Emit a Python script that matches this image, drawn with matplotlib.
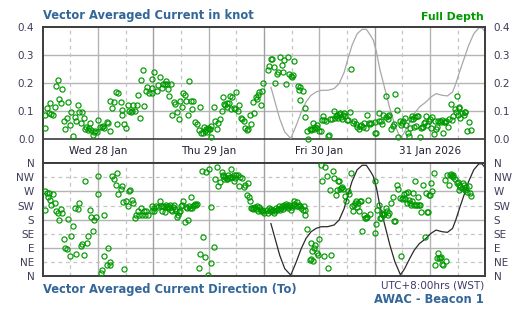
import matplotlib
matplotlib.use("Agg")
import matplotlib.pyplot as plt
import numpy as np

# ---------------- data (hours since Wed 28 Jan 2026 00:00) ----------------
speed_hours = [
    0.4, 0.6, 1.0, 1.4, 1.9, 2.3, 1.6, 2.7, 2.9, 3.4, 3.6, 4.0, 4.2, 4.6, 4.9, 5.3, 5.5, 5.9, 6.1, 6.6,
    7.0, 7.2, 7.6, 7.9, 8.3, 8.5, 8.9, 9.1, 9.4, 9.8, 10.0, 10.2, 10.4, 10.9, 11.1, 11.3, 11.7, 11.9, 12.4, 12.8,
    13.0, 13.4, 13.9, 14.1, 14.5, 14.7, 15.1, 15.4, 15.8, 16.2, 16.4, 16.9, 17.1, 17.3, 17.7, 18.1, 18.4, 18.8, 19.2, 19.4,
    19.6, 20.1, 20.5, 20.7, 21.1, 21.4, 21.8, 22.0, 22.4, 22.6, 23.1,
    23.8, 23.8, 23.8, 24.2, 24.9, 25.1, 25.5, 25.9, 26.1, 26.6, 26.8, 27.0, 27.2, 27.4, 27.9, 28.1, 28.5, 28.7, 29.1, 29.6,
    29.8, 30.2, 30.4, 30.9, 31.1, 31.5, 31.7, 32.1, 32.4, 32.6, 33.0, 33.4, 33.9, 34.1, 34.3, 34.7, 34.9, 35.1, 35.4, 35.6,
    35.8, 36.0, 36.2, 36.4, 36.6, 37.1, 37.3, 37.7, 38.1, 38.4, 38.8, 39.0, 39.4, 39.6, 39.9, 40.0, 40.5, 40.7, 40.9, 41.1,
    41.6, 41.8, 42.0, 42.4, 42.6, 43.1, 43.2, 43.6, 43.9, 44.3, 44.5, 45.0, 45.2, 45.6, 45.8, 46.2, 46.5, 46.7, 46.9, 47.4,
    47.6, 47.8,
    48.9, 49.1, 49.5, 49.7, 50.1, 50.4, 50.8, 51.0, 51.4, 51.9, 52.1, 52.3, 52.7, 53.1, 53.4, 53.8, 54.0, 54.2, 54.6, 55.3,
    55.5, 55.7, 55.9, 56.4, 56.8, 57.0, 57.4, 57.6, 57.9, 58.1, 58.5, 58.7, 58.9, 59.1, 59.4, 59.6, 60.0, 60.4, 60.6, 60.9,
    61.1, 61.5, 61.9, 62.1, 62.4, 62.8, 63.2, 63.4, 63.6, 63.9, 64.1, 64.3, 64.5, 64.7, 64.9, 65.1, 65.4, 65.6, 66.0, 66.2,
    66.6, 66.9, 67.3, 67.5, 67.9, 68.1, 68.6, 68.8, 69.0, 69.4, 69.6, 70.1, 70.3, 70.7, 70.9, 71.1,
    72.0, 72.0, 72.4, 72.9, 72.9, 73.3, 73.7, 73.9, 74.4, 74.4, 74.8, 75.0, 75.2, 75.6, 75.9, 76.3, 76.5, 76.9, 77.1, 77.6,
    77.8, 78.0, 78.2, 78.6, 78.9, 79.3, 79.5, 79.7, 79.9, 80.1, 80.4, 80.6, 80.8, 81.0, 81.2, 81.4, 81.9, 82.1, 82.3, 82.5,
    82.7, 82.9, 83.1, 83.4, 83.8, 84.0, 84.2, 84.4, 84.9, 85.1, 85.3, 85.5, 85.7, 86.1, 86.4, 86.6, 86.8, 87.0, 87.2, 87.4,
    87.9, 88.1, 88.5, 88.7, 89.1, 89.4, 89.6, 89.8, 90.0, 90.2, 90.4, 90.6, 90.9, 91.3, 91.5, 91.7, 92.1, 92.4, 92.8,
]
speed_knots = [
    .039, .086, .111, .095, .092, .087, .129, .114, .189, .211, .145, .129, .179, .064, .038, .075, .132, .050, .096, .011,
    .079, .064, .121, .096, .058, .096, .075, .038, .043, .032, .040, .057, .032, .014, .026, .029, .026, .068, .044, .044,
    .046, .040, .062, .057, .029, .136, .111, .132, .168, .054, .164, .132, .104, .086, .054, .039, .121, .100, .096, .100,
    .121, .100, .121, .157, .075, .211, .246, .118, .171, .186, .164,
    .214, .185, .167, .239, .171, .194, .221, .182, .198, .196, .210, .198, .179, .154, .196, .086, .133, .125, .096, .071,
    .136, .115, .164, .157, .137, .086, .207, .136, .107, .136, .061, .055, .032, .114, .023, .023, .043, .031, .036, .025,
    .040, .038, .036, .007, .049, .114, .067, .036, .057, .071, .100, .150, .126, .121, .129, .115, .129, .155, .107, .150,
    .111, .107, .168, .100, .121, .077, .071, .064, .039, .035, .036, .086, .054, .132, .093, .150, .144, .157, .168, .121,
    .171, .200,
    .246, .263, .287, .286, .257, .200, .232, .239, .293, .264, .239, .282, .198, .293, .232, .225, .221, .229, .279, .189,
    .175, .139, .186, .171, .111, .079, .029, .000, .036, .032, .036, .057, .036, .043, .050, .039, .029, .029, .068, .082,
    .068, .067, .011, .014, .071, .071, .100, .077, .082, .086, .075, .090, .093, .079, .074, .088, .093, .082, .068, .068,
    .096, .252, .057, .064, .054, .043, .036, .046, .050, .043, .057, .039, .086, .057, .054, .057,
    .061, .021, .021, .064, .093, .064, .054, .086, .155, .079, .071, .082, .086, .036, .046, .054, .161, .104, .007, .064,
    .050, .057, .064, .075, .050, .021, .011, .039, .071, .082, .071, .043, .079, .046, .082, .082, .007, .039, .043, .043,
    .057, .061, .082, .050, .064, .071, .039, .079, .018, .064, .036, .043, .064, .064, .061, .068, .021, .061, .061, .067,
    .043, .071, .125, .068, .082, .107, .098, .154, .088, .111, .114, .075, .093, .086, .096, .096, .029, .061, .032,
]

dir_hours = [
    0.4, 0.6, 1.0, 1.2, 1.4, 1.6, 1.9, 2.3, 2.7, 2.9, 3.4, 3.6, 4.0, 4.2, 4.6, 4.9, 5.3, 5.5, 5.9, 6.1,
    6.6, 7.0, 7.2, 7.6, 7.9, 8.3, 8.5, 8.9, 9.1, 9.6, 9.8, 10.2, 10.4, 10.9, 11.1, 11.5, 11.9, 12.1, 12.6, 12.8,
    13.2, 13.4, 13.9, 14.1, 14.5, 14.7, 15.1, 15.4, 15.8, 16.2, 16.4, 16.9, 17.1, 17.5, 17.7, 18.1, 18.4, 18.8, 19.0, 19.4,
    19.6, 20.1, 20.3, 20.7, 20.9, 21.4, 21.6, 22.0, 22.2, 22.4, 22.9,
    23.8, 23.8, 24.2, 24.2, 24.6, 25.1, 25.5, 25.7, 25.9, 26.1, 26.4, 26.6, 26.8, 27.0, 27.2, 27.4, 27.6, 27.9, 28.1, 28.3,
    28.5, 28.7, 28.9, 29.1, 29.4, 29.6, 29.8, 30.0, 30.2, 30.4, 30.9, 31.1, 31.3, 31.5, 31.7, 31.9, 32.1, 32.4, 32.6, 32.8,
    33.0, 33.2, 33.4, 33.9, 34.1, 34.5, 34.7, 35.1, 35.4, 35.8, 36.0, 36.4, 36.6, 37.1, 37.3, 37.7, 38.1, 38.4, 38.8, 39.0,
    39.2, 39.4, 39.6, 39.9, 40.0, 40.3, 40.5, 40.7, 40.9, 41.1, 41.4, 41.6, 41.8, 42.0, 42.4, 42.6, 42.9, 43.3, 43.7, 43.9,
    44.4, 44.6, 44.8, 45.0, 45.2, 45.4, 45.6, 45.9, 46.1, 46.3, 46.5, 46.7, 46.9, 47.1, 47.4, 47.6, 47.8, 48.0,
    48.6, 48.9, 49.1, 49.3, 49.5, 49.7, 49.9, 50.1, 50.4, 50.6, 50.8, 51.0, 51.2, 51.4, 51.6, 51.9, 52.1, 52.3, 52.5, 52.7,
    52.9, 53.1, 53.4, 53.6, 53.8, 54.0, 54.2, 54.4, 54.6, 54.9, 55.1, 55.3, 55.5, 55.9, 56.1, 56.4, 56.6, 56.8, 57.0, 57.4,
    57.9, 58.1, 58.3, 58.5, 58.7, 58.9, 59.1, 59.4, 59.8, 60.0, 60.4, 60.6, 61.1, 61.3, 61.7, 61.9, 62.4, 62.6, 63.0, 63.2,
    63.6, 63.9, 64.1, 64.3, 64.5, 64.7, 64.9, 65.1, 65.6, 65.8, 66.2, 66.4, 66.9, 67.1, 67.3, 67.5, 67.7, 67.9, 68.1, 68.4,
    68.6, 68.8, 69.0, 69.2, 69.6, 69.9, 70.1, 70.3, 70.5, 70.9,
    72.0, 72.0, 72.4, 72.6, 72.9, 73.1, 73.3, 73.5, 73.7, 73.9, 74.1, 74.4, 74.6, 75.0, 75.2, 75.6, 75.9, 76.3, 76.5, 76.9,
    77.1, 77.6, 77.8, 78.0, 78.2, 78.4, 78.6, 78.9, 79.1, 79.3, 79.5, 79.7, 79.9, 80.1, 80.4, 80.6, 80.8, 81.0, 81.2, 81.4,
    81.6, 81.9, 82.1, 82.5, 82.9, 83.1, 83.4, 83.6, 83.8, 84.0, 84.2, 84.4, 84.9, 85.1, 85.5, 85.7, 85.9, 86.1, 86.4, 86.6,
    86.8, 87.2, 87.4, 87.6, 88.1, 88.3, 88.5, 88.7, 88.9, 89.1, 89.4, 89.8, 90.0, 90.2, 90.4, 90.6, 90.9, 91.1, 91.3, 91.5,
    91.7, 91.9, 92.1, 92.4, 92.6, 92.8,
]
dir_degrees = [
    210, 270, 266, 253, 266, 244, 226, 263, 232, 207, 200, 178, 213, 200, 119, 88, 85, 181, 63, 127,
    159, 216, 71, 213, 232, 95, 102, 66, 302, 107, 127, 210, 187, 143, 178, 187, 262, 318, 9, 19,
    194, 63, 34, 88, 44, 34, 319, 310, 290, 328, 261, 277, 286, 237, 21, 241, 223, 270, 274, 244,
    232, 184, 196, 207, 194, 217, 196, 207, 194, 207, 194,
    223, 207, 207, 217, 223, 219, 239, 223, 207, 225, 219, 203, 228, 219, 225, 217, 228, 210, 207, 219,
    228, 213, 207, 187, 196, 203, 207, 225, 228, 239, 171, 219, 217, 178, 223, 217, 251, 217, 225, 228,
    230, 228, 230, 26, 69, 334, 124, 60, 332, 2, 341, 219, 40, 92, 309, 347, 286, 300, 332, 324,
    318, 309, 315, 311, 309, 324, 313, 317, 341, 315, 324, 302, 313, 322, 324, 288, 315, 313, 283, 290,
    258, 296, 251, 241, 217, 217, 215, 217, 219, 215, 223, 209, 219, 213, 209, 212, 207, 201,
    212, 201, 217, 209, 215, 207, 212, 201, 207, 217, 212, 215, 223, 212, 217, 223, 215, 226, 219, 230,
    223, 217, 228, 223, 212, 219, 228, 239, 230, 223, 236, 223, 228, 223, 217, 212, 223, 212, 194, 149,
    51, 54, 105, 81, 49, 88, 98, 73, 68, 117, 356, 305, 63, 347, 318, 26, 274, 66, 334, 313,
    260, 274, 302, 302, 279, 281, 283, 277, 255, 241, 270, 262, 328, 223, 207, 228, 233, 239, 219, 233,
    207, 239, 241, 143, 194, 185, 185, 190, 244, 198,
    305, 136, 166, 212, 228, 185, 185, 198, 201, 196, 198, 217, 207, 194, 201, 233, 251, 175, 175, 290,
    277, 249, 63, 247, 249, 262, 247, 265, 233, 268, 244, 233, 226, 239, 265, 228, 305, 226, 228, 251,
    226, 226, 204, 290, 126, 265, 204, 204, 258, 260, 297, 273, 330, 34, 58, 72, 58, 58, 60, 38,
    36, 308, 47, 324, 290, 324, 326, 318, 322, 315, 311, 297, 300, 292, 276, 283, 281, 297, 290, 281,
    276, 283, 268, 286, 265, 255,
]

tide_hours = [49.5, 50.4, 51.4, 52.5, 53.8, 55.0, 56.1, 57.1, 58.2, 59.3, 60.4, 61.8, 63.2, 64.3, 65.4, 66.2,
              67.1, 68.2, 69.3, 70.2, 71.1, 71.7, 72.4, 73.1, 74.2, 75.3, 76.4, 77.6, 78.5, 79.6, 80.6, 81.7,
              83.1, 84.2, 85.3, 86.7, 87.8, 88.9, 89.6, 90.4, 91.4, 92.4, 93.5, 94.6, 95.3, 96.0]
tide_level = [.186, .133, .074, .026, .003, .050, .098, .133, .157, .169, .175, .175, .181, .199, .240, .288,
              .336, .377, .393, .393, .371, .354, .312, .252, .181, .110, .050, .004, .026, .062, .092, .115,
              .133, .151, .163, .157, .155, .169, .199, .240, .288, .336, .377, .398, .398, .383]

day_labels = ["Wed 28 Jan", "Thu 29 Jan", "Fri 30 Jan", "31 Jan 2026"]
speed_ticks = [0.0, 0.1, 0.2, 0.3, 0.4]
compass_labels = ["N", "NE", "E", "SE", "S", "SW", "W", "NW", "N"]

for a, b in [(speed_hours, speed_knots), (dir_hours, dir_degrees), (tide_hours, tide_level)]:
    assert len(a) == len(b), (len(a), len(b))

# ---------------- layout ----------------
W, H = 521, 315
fig = plt.figure(figsize=(W / 100, H / 100), dpi=100)
fig.patch.set_facecolor("white")
x0, x1 = 42.7, 485.3
ax1 = fig.add_axes([x0 / W, (H - 163.3) / H, (x1 - x0) / W, (163.3 - 27.3) / H])
ax2 = fig.add_axes([x0 / W, (H - 276.0) / H, (x1 - x0) / W, (276.0 - 163.3) / H])

band = 0.4 * 24.0 / 112.0
ax1.set_xlim(0, 96)
ax1.set_ylim(-band, 0.4)
ax2.set_xlim(0, 96)
ax2.set_ylim(0, 360)

SOLID = "#b4b4b4"
DASH = "#c4c4c4"
MID = "#a0a0a0"
SPINE = "#3c3c3c"
TICKC = "#3c3c5a"
GREEN = "#009a00"

# grids top
for y in [0.1, 0.2, 0.3]:
    ax1.axhline(y, color=SOLID, lw=1.0, zorder=0)
for hh in range(6, 96, 6):
    if hh % 24 == 0:
        ax1.vlines(hh, -band, 0.4, color=MID, lw=1.0, zorder=0)
    elif hh % 12 == 0:
        ax1.vlines(hh, 0, 0.4, color=SOLID, lw=1.0, zorder=0)
    else:
        ax1.vlines(hh, 0, 0.4, color=DASH, lw=0.9, linestyles=(0, (3, 3)), zorder=0)
ax1.axhline(0, color=SPINE, lw=1.2, zorder=1)

# grids bottom
for d in range(45, 360, 45):
    if d % 90 == 0:
        ax2.axhline(d, color=SOLID, lw=1.0, zorder=0)
    else:
        ax2.axhline(d, color=DASH, lw=0.9, ls=(0, (3, 3)), zorder=0)
for hh in range(6, 96, 6):
    if hh % 24 == 0:
        ax2.axvline(hh, color=MID, lw=1.0, zorder=0)
    elif hh % 12 == 0:
        ax2.axvline(hh, color=SOLID, lw=1.0, zorder=0)
    else:
        ax2.axvline(hh, color=DASH, lw=0.9, ls=(0, (3, 3)), zorder=0)

# data
ax1.plot(tide_hours, tide_level, color="#a8a8a8", lw=0.9, zorder=2)
ax1.plot(speed_hours, speed_knots, "o", mfc="none", mec=GREEN, ms=3.7, mew=0.85, zorder=3)
ax2.plot(tide_hours, np.array(tide_level) * 900.0, color="#2a2a2a", lw=0.9, zorder=2)
ax2.plot(dir_hours, dir_degrees, "o", mfc="none", mec=GREEN, ms=3.7, mew=0.85, zorder=3)

# day labels
for i, lab in enumerate(day_labels):
    ax1.text(12 + 24 * i, -band / 2, lab, ha="center", va="center", fontsize=7.5, color="#202030")

for ax in (ax1, ax2):
    ax.set_xticks([])
    for s in ax.spines.values():
        s.set_color(SPINE)
        s.set_linewidth(1.4)

ax1.set_yticks(speed_ticks)
ax1.set_yticklabels(["%.1f" % v for v in speed_ticks])
ax2.set_yticks(np.arange(0, 361, 45))
ax2.set_yticklabels(compass_labels)
for ax in (ax1, ax2):
    ax.tick_params(axis="y", which="both", length=0, labelsize=7.5, labelcolor=TICKC,
                   left=False, right=False, labelleft=True, labelright=True)
    for t in ax.get_yticklabels():
        pass
ax1.tick_params(axis="y", pad=7.5)
ax2.tick_params(axis="y", pad=6.5)
# right side padding smaller
for ax in (ax1, ax2):
    for t in ax.yaxis.get_major_ticks():
        t.set_pad(6)

# titles
TITLE = "#336699"
fig.text(x0 / W, 1 - 16.0 / H, "Vector Averaged Current in knot", ha="left", va="center",
         fontsize=8.3, fontweight="bold", color=TITLE)
fig.text(484 / W, 1 - 16.5 / H, "Full Depth", ha="right", va="center",
         fontsize=7.8, fontweight="bold", color=GREEN)
fig.text(x0 / W, 1 - 289.5 / H, "Vector Averaged Current Direction (To)", ha="left", va="center",
         fontsize=8.3, fontweight="bold", color=TITLE)
fig.text(484 / W, 1 - 286.0 / H, "UTC+8:00hrs (WST)", ha="right", va="center",
         fontsize=7.5, color="#3c3c6a")
fig.text(484 / W, 1 - 299.5 / H, "AWAC - Beacon 1", ha="right", va="center",
         fontsize=8.3, fontweight="bold", color=TITLE)

fig.savefig("out.png", dpi=100, facecolor="white")
